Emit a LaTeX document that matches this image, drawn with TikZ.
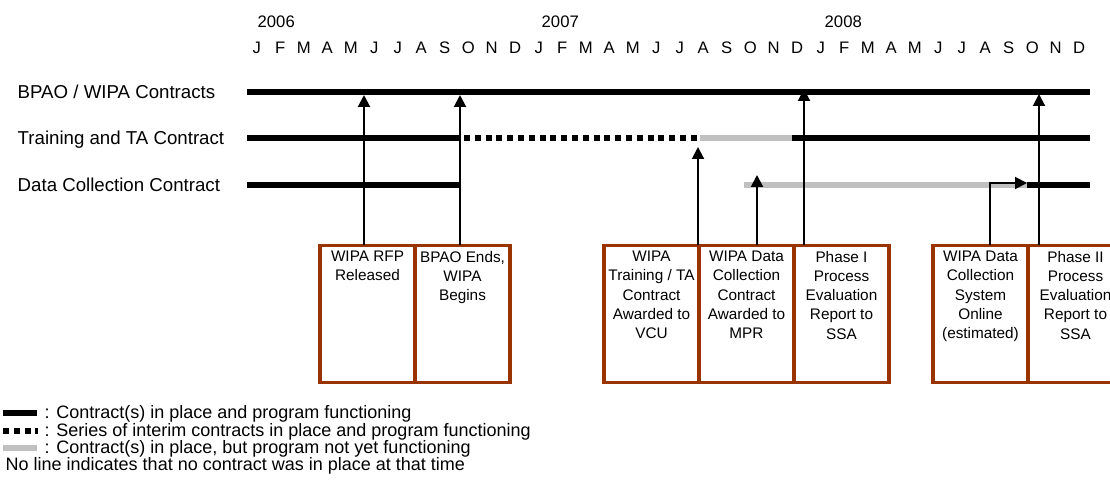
\documentclass[tikz,border=0pt]{standalone}
\usepackage{fontspec}
\setmainfont{Liberation Sans}
\usetikzlibrary{arrows.meta,positioning}
\definecolor{boxbrown}{RGB}{153,51,0}
\definecolor{pendgray}{RGB}{192,192,192}
\newcommand{\evtext}[1]{\parbox[c][94pt][t]{67pt}{\centering #1}}

\begin{document}
\begin{tikzpicture}[
		x=0.75pt, y=-0.75pt,
		rowlabel/.style={anchor=base west, font=\fontsize{14}{16}\selectfont},
		month/.style={anchor=base, font=\fontsize{12.5}{15}\selectfont},
		evbox/.style={draw=boxbrown, line width=2.3pt, outer sep=0pt, inner xsep=2.1pt, inner ysep=4.2pt, minimum width=71.25pt, font=\fontsize{11.5}{14.4}\selectfont},
		funcline/.style={line width=4.5pt},
		interimline/.style={line width=4.5pt, dash pattern=on 4.5pt off 3.6pt},
		pendline/.style={line width=4.5pt, pendgray},
		evarrow/.style={line width=1.5pt, -{Triangle[length=9pt,width=9pt]}},
		legend/.style={anchor=base west, font=\fontsize{13.5}{15}\selectfont}
	]
	\useasboundingbox (0,0) rectangle (1110,488);

	\foreach \yr/\yx in {2006/253,2007/537,2008/820}
		\node[month, anchor=base west] (y\yr) at (\yx,28) {\yr};
	\foreach \yr in {0,1,2}
		\foreach \m [count=\i from 0] in {J,F,M,A,M,J,J,A,S,O,N,D}
			\node[month] (m\yr-\i) at ({245+23.5*(12*\yr+\i+0.5)},54) {\m};

	\node[rowlabel] (lbpao) at (13,99) {BPAO / WIPA Contracts};
	\node[rowlabel] (ltrain) at (13,145) {Training and TA Contract};
	\node[rowlabel] (ldata) at (13,192) {Data Collection Contract};

	\draw[funcline] (247,92) -- (1090,92);
	\draw[funcline] (247,138) -- (460,138);
	\draw[interimline] (464,138) -- (697,138);
	\draw[pendline] (700,138) -- (792,138);
	\draw[funcline] (792,138) -- (1090,138);
	\draw[funcline] (247,185) -- (460,185);
	\draw[pendline] (744,185) -- (1027,185);
	\draw[funcline] (1027,185) -- (1090,185);

	\node[evbox, anchor=north west] (rfp) at (320,245.5) {\evtext{WIPA RFP\\Released}};
	\node[evbox, right=0pt of rfp] (bpaoend) {\evtext{BPAO Ends,\\WIPA\\Begins}};
	\node[evbox, anchor=north west] (vcu) at (604,245.5) {\evtext{WIPA\\Training / TA\\Contract\\Awarded to\\VCU}};
	\node[evbox, right=0pt of vcu] (mpr) {\evtext{WIPA Data\\Collection\\Contract\\Awarded to\\MPR}};
	\node[evbox, right=0pt of mpr] (phase1) {\evtext{Phase I\\Process\\Evaluation\\Report to\\SSA}};
	\node[evbox, anchor=north west] (online) at (933,245.5) {\evtext{WIPA Data\\Collection\\System\\Online\\(estimated)}};
	\node[evbox, right=0pt of online] (phase2) {\evtext{Phase II\\Process\\Evaluation\\Report to\\SSA}};

	\coordinate (trfp) at (364,95);
	\coordinate (tbpaoend) at (460,95);
	\coordinate (tvcu) at (698,147);
	\coordinate (tmpr) at (757,175);
	\coordinate (tphase1) at (804,89);
	\coordinate (bonline) at (990,183);
	\coordinate (tonline) at (1027,183);
	\coordinate (tphase2) at (1039,94);
	\draw[evarrow] (rfp.north -| trfp) -- (trfp);
	\draw[evarrow] (bpaoend.north -| tbpaoend) -- (tbpaoend);
	\draw[evarrow] (vcu.north -| tvcu) -- (tvcu);
	\draw[evarrow] (mpr.north -| tmpr) -- (tmpr);
	\draw[evarrow] (phase1.north -| tphase1) -- (tphase1);
	\draw[evarrow] (online.north -| bonline) -- (bonline) -- (tonline);
	\draw[evarrow] (phase2.north -| tphase2) -- (tphase2);

	\draw[funcline] (3,413) -- (37,413);
	\draw[interimline] (3,431) -- (38,431);
	\draw[pendline] (3,448) -- (37,448);
	\node[legend] (leg1) at (40,418) {: Contract(s) in place and program functioning};
	\node[legend] (leg2) at (40,436) {: Series of interim contracts in place and program functioning};
	\node[legend] (leg3) at (40,453) {: Contract(s) in place, but program not yet functioning};
	\node[legend] (leg4) at (1,470) {No line indicates that no contract was in place at that time};
\end{tikzpicture}
\end{document}
